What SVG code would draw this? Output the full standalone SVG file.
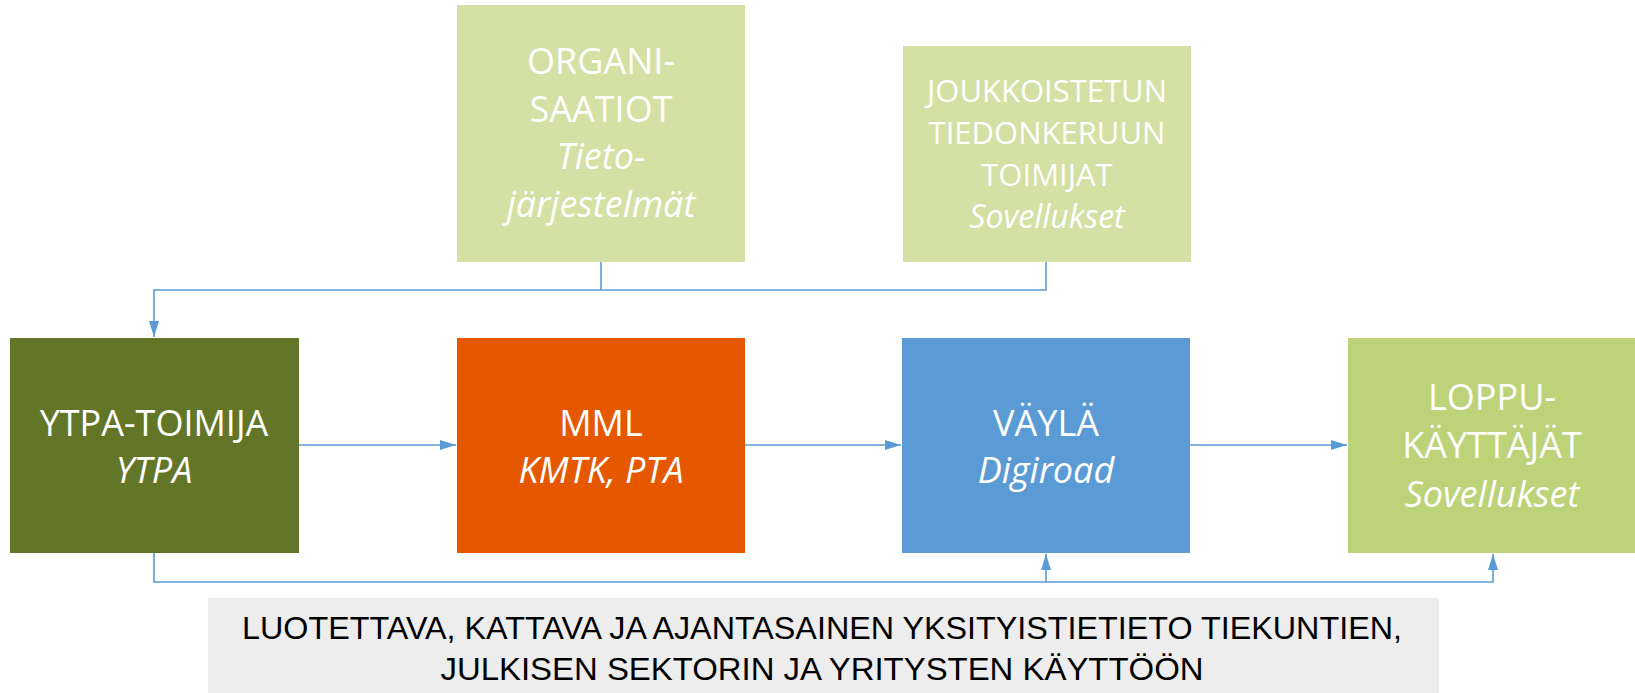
<svg xmlns="http://www.w3.org/2000/svg" width="1635" height="693" viewBox="0 0 1635 693">
<defs>
<style>
.t{font-family:"Open Sans","Noto Sans",sans-serif;fill:#fff;text-anchor:middle;}
.b{font-size:36px;}
.s{font-size:31px;}
.i{font-style:italic;}
.c{fill:none;stroke:#5B9BD5;stroke-width:1.6;}
.g{font-family:"Liberation Sans",Arial,sans-serif;font-size:31px;fill:#000;text-anchor:middle;}
</style>
<marker id="ah" viewBox="0 0 16 10" refX="16" refY="5" markerWidth="16" markerHeight="11" markerUnits="userSpaceOnUse" orient="auto">
<path d="M0,0 L16,5 L0,10 Z" fill="#5B9BD5"/>
</marker>
</defs>
<rect width="1635" height="693" fill="#fff"/>
<g id="connectors">
<path class="c" d="M601,262 V290 H154 V337" marker-end="url(#ah)"/>
<path class="c" d="M1046,262 V290 H601"/>
<path class="c" d="M299,445 H456" marker-end="url(#ah)"/>
<path class="c" d="M745,445 H901" marker-end="url(#ah)"/>
<path class="c" d="M1190,445 H1347" marker-end="url(#ah)"/>
<path class="c" d="M154,553 V582 H1493 V554" marker-end="url(#ah)"/>
<path class="c" d="M1046,582 V554" marker-end="url(#ah)"/>
</g>
<g id="organisaatiot">
<rect x="457" y="5" width="288" height="257" fill="#D4E0A4"/>
<text class="t b" x="601" y="74">ORGANI-</text>
<text class="t b" x="601" y="122">SAATIOT</text>
<text class="t b i" x="601" y="169">Tieto-</text>
<text class="t b i" x="601" y="217">järjestelmät</text>
</g>
<g id="joukkoistetun">
<rect x="903" y="46" width="288" height="216" fill="#D4E0A4"/>
<text class="t s" x="1047" y="102">JOUKKOISTETUN</text>
<text class="t s" x="1047" y="144">TIEDONKERUUN</text>
<text class="t s" x="1047" y="186">TOIMIJAT</text>
<text class="t s i" x="1047" y="228" style="font-size:32px">Sovellukset</text>
</g>
<g id="ytpa">
<rect x="10" y="338" width="289" height="215" fill="#637628"/>
<text class="t b" x="154" y="436">YTPA-TOIMIJA</text>
<text class="t b i" x="154" y="483">YTPA</text>
</g>
<g id="mml">
<rect x="457" y="338" width="288" height="215" fill="#E55800"/>
<text class="t b" x="601" y="436">MML</text>
<text class="t b i" x="601" y="483">KMTK, PTA</text>
</g>
<g id="vayla">
<rect x="902" y="338" width="288" height="215" fill="#5B9BD5"/>
<text class="t b" x="1046" y="436">VÄYLÄ</text>
<text class="t b i" x="1046" y="483">Digiroad</text>
</g>
<g id="loppukayttajat">
<rect x="1348" y="338" width="287" height="215" fill="#BDD37A"/>
<text class="t b" x="1492" y="410">LOPPU-</text>
<text class="t b" x="1492" y="458">KÄYTTÄJÄT</text>
<text class="t b i" x="1492" y="507">Sovellukset</text>
</g>
<g id="summary">
<rect x="208" y="598" width="1231" height="95" fill="#EDEDED"/>
<text class="g" x="822" y="639" textLength="1160" lengthAdjust="spacingAndGlyphs">LUOTETTAVA, KATTAVA JA AJANTASAINEN YKSITYISTIETIETO TIEKUNTIEN,</text>
<text class="g" x="822" y="680" textLength="763" lengthAdjust="spacingAndGlyphs">JULKISEN SEKTORIN JA YRITYSTEN KÄYTTÖÖN</text>
</g>
</svg>
